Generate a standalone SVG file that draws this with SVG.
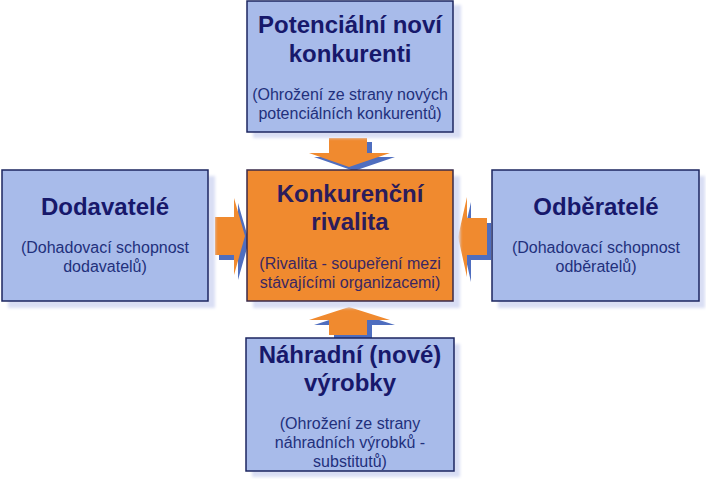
<svg xmlns="http://www.w3.org/2000/svg" width="706" height="479" viewBox="0 0 706 479">
<defs>
<filter id="sh" x="-10%" y="-10%" width="130%" height="130%"><feGaussianBlur stdDeviation="1.5"/></filter>
<style>
.box{fill:#a8bbea;stroke:#1c2660;stroke-width:1.5}
.core{fill:#f08a2f;stroke:#3a2a4a;stroke-width:1.5}
.shadow{fill:#d9def4;filter:url(#sh)}
.t{font-family:"Liberation Sans",Arial,sans-serif;font-weight:bold;font-size:24px;fill:#17186b;text-anchor:middle}
.s{font-family:"Liberation Sans",Arial,sans-serif;font-size:16px;fill:#22307c;text-anchor:middle}
.ct{fill:#2b1c5c}
.cs{fill:#3a2762}
.ar{fill:#f08a2f}
.as{fill:#4f6ebf}
</style>
</defs>
<rect width="706" height="479" fill="#ffffff"/>
<g id="connectors">
<g transform="translate(5,4)"><polygon class="as" points="329,138 367,138 367,153 390,153 349,167 309,153 329,153"/></g>
<polygon class="ar" points="329,138 367,138 367,153 390,153 349,167 309,153 329,153"/>
<g transform="translate(5,5)"><polygon class="as" points="349,307 390,320 367,320 367,335 329,335 329,320 309,320"/></g>
<polygon class="ar" points="349,307 390,320 367,320 367,335 329,335 329,320 309,320"/>
<g transform="translate(4,5)"><polygon class="as" points="215,217 234,217 234,198 245,236 234,275 234,255 215,255"/></g>
<polygon class="ar" points="215,217 234,217 234,198 245,236 234,275 234,255 215,255"/>
<g transform="translate(4,5)"><polygon class="as" points="458,237 467,197 467,218 487,218 487,255 467,255 467,277"/></g>
<polygon class="ar" points="458,237 467,197 467,218 487,218 487,255 467,255 467,277"/>
</g>
<g id="node-top">
<rect class="shadow" x="253" y="5" width="208" height="133"/>
<rect class="box" x="247" y="1" width="206" height="131"/>
<text class="t" x="350" y="33">Potenciální noví</text>
<text class="t" x="350" y="62">konkurenti</text>
<text class="s" x="350" y="100">(Ohrožení ze strany nových</text>
<text class="s" x="350" y="119">potenciálních konkurentů)</text>
</g>
<g id="node-center">
<rect class="shadow" x="253" y="176" width="207" height="132"/>
<rect class="core" x="247" y="170" width="206" height="131"/>
<text class="t ct" x="350" y="202">Konkurenční</text>
<text class="t ct" x="350" y="230">rivalita</text>
<text class="s cs" x="350" y="269">(Rivalita - soupeření mezi</text>
<text class="s cs" x="350" y="288">stávajícími organizacemi)</text>
</g>
<g id="node-left">
<rect class="shadow" x="8" y="176" width="207" height="132"/>
<rect class="box" x="2" y="170" width="206" height="131"/>
<text class="t" x="105" y="215">Dodavatelé</text>
<text class="s" x="105" y="253">(Dohadovací schopnost</text>
<text class="s" x="105" y="272">dodavatelů)</text>
</g>
<g id="node-right">
<rect class="shadow" x="498" y="176" width="207" height="132"/>
<rect class="box" x="492" y="170" width="207" height="131"/>
<text class="t" x="596" y="215">Odběratelé</text>
<text class="s" x="596" y="253">(Dohadovací schopnost</text>
<text class="s" x="596" y="272">odběratelů)</text>
</g>
<g id="node-bottom">
<rect class="shadow" x="252" y="344" width="208" height="133"/>
<rect class="box" x="246" y="338" width="208" height="133"/>
<text class="t" x="350" y="363">Náhradní (nové)</text>
<text class="t" x="350" y="391">výrobky</text>
<text class="s" x="350" y="429">(Ohrožení ze strany</text>
<text class="s" x="350" y="448">náhradních výrobků -</text>
<text class="s" x="350" y="467">substitutů)</text>
</g>
</svg>
